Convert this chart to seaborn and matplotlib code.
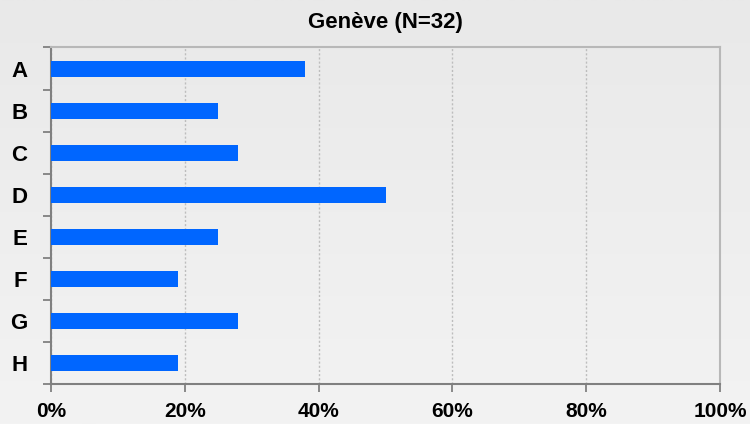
import numpy as np
import pandas as pd
import matplotlib
matplotlib.use('Agg')
import matplotlib.pyplot as plt
import seaborn as sns
from matplotlib.ticker import FixedLocator, PercentFormatter

# 데이터
categories = ['A', 'B', 'C', 'D', 'E', 'F', 'G', 'H']
shares = [38, 25, 28, 50, 25, 19, 28, 19]
title = 'Genève (N=32)'

df = pd.DataFrame({'cat': categories, 'pct': shares})

sns.set_style('white')
plt.rcParams['font.family'] = ['Liberation Sans', 'DejaVu Sans']
plt.rcParams['text.color'] = 'black'
plt.rcParams['xtick.color'] = 'black'
plt.rcParams['ytick.color'] = 'black'

fig = plt.figure(figsize=(7.5, 4.24), dpi=100)

# 배경 그라데이션
bg = fig.add_axes([0, 0, 1, 1], zorder=-10)
grad = np.linspace(0, 1, 256).reshape(-1, 1)
bg.imshow(grad, aspect='auto', cmap=matplotlib.colors.LinearSegmentedColormap.from_list(
    'bg', ['#f3f3f3', '#e9e9e9']), origin='lower', extent=[0, 1, 0, 1])
bg.axis('off')

ax = fig.add_axes([0.068, 0.094, 0.892, 0.794])
ax.patch.set_alpha(0)

sns.barplot(data=df, y='cat', x='pct', orient='h', color='#0066ff',
            saturation=1, width=0.38, linewidth=0, ax=ax, zorder=3)

ax.set_xlim(0, 100)
ax.set_ylim(7.5, -0.5)
ax.set_xticks([0, 20, 40, 60, 80, 100])
ax.xaxis.set_major_formatter(PercentFormatter(decimals=0))
ax.xaxis.grid(True, linestyle=(0, (1.5, 1.5)), color='#bdbdbd', linewidth=1, zorder=0)
ax.set_xlabel('')
ax.set_ylabel('')

ax.yaxis.set_minor_locator(FixedLocator(np.arange(-0.5, 8, 1)))
ax.tick_params(axis='y', which='major', length=0, pad=17, labelsize=16)
ax.tick_params(axis='y', which='minor', length=6, width=1.2, color='#777777', left=True)
ax.tick_params(axis='x', which='major', length=6, width=1.2, color='#777777',
               bottom=True, labelsize=15, pad=7)
for lbl in ax.get_xticklabels() + ax.get_yticklabels():
    lbl.set_fontweight('bold')

for side in ['left', 'bottom']:
    ax.spines[side].set_color('#808080')
    ax.spines[side].set_linewidth(1.5)
for side in ['top', 'right']:
    ax.spines[side].set_visible(True)
    ax.spines[side].set_color('#b8b8b8')
    ax.spines[side].set_linewidth(1.5)

ax.set_title(title, fontsize=16, fontweight='bold', pad=14)

fig.savefig('out.png', dpi=100)
